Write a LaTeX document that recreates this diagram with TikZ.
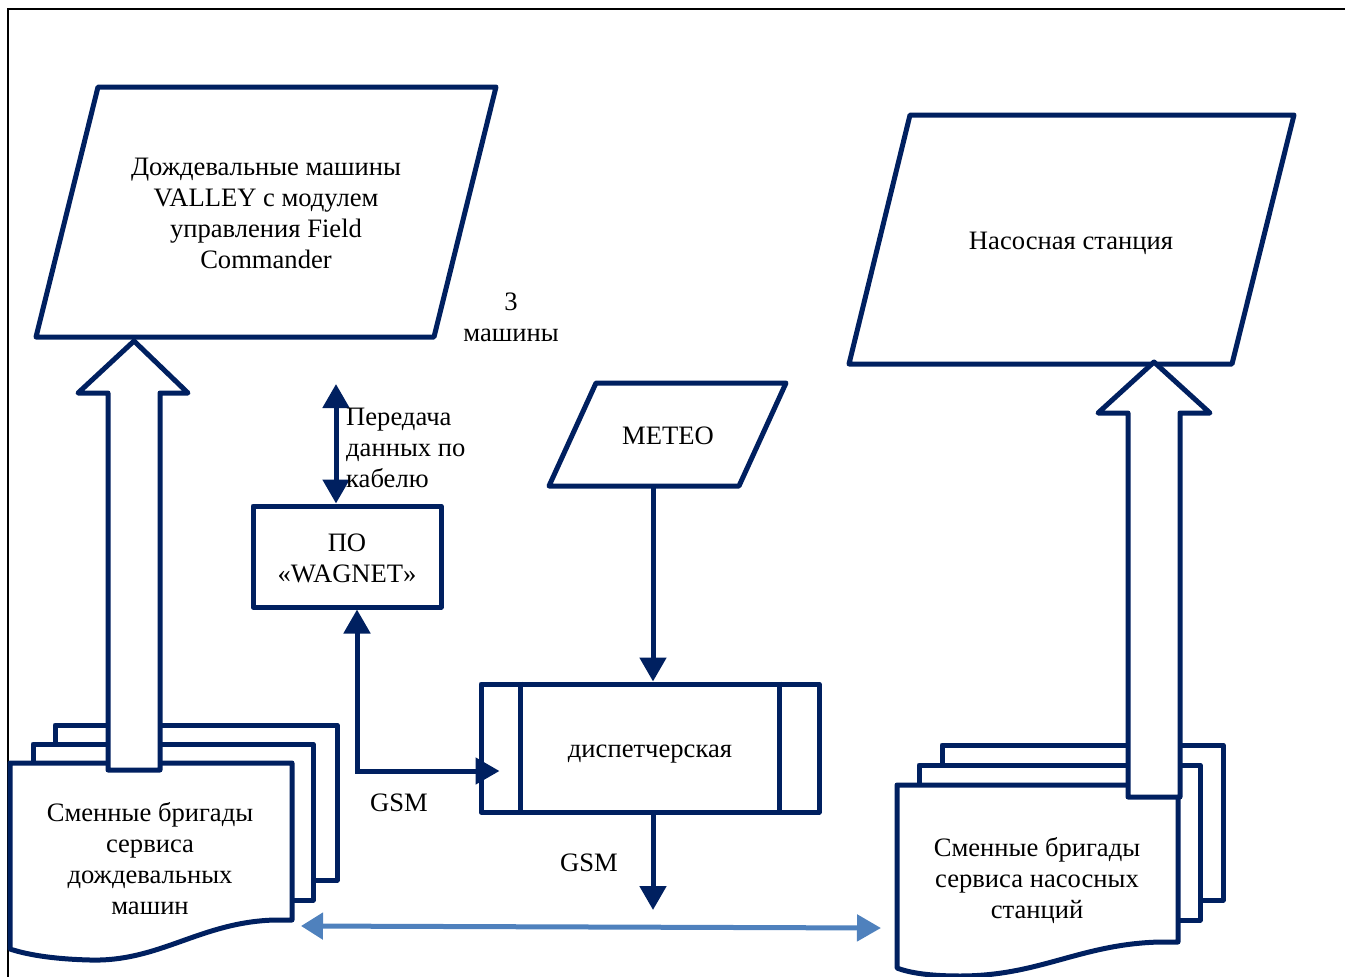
\documentclass[tikz,border=0pt]{standalone}
\usepackage{fontspec}
\setmainfont{Liberation Serif}
\usetikzlibrary{arrows.meta}
\definecolor{navy}{HTML}{002060}
\definecolor{lblue}{HTML}{4F81BD}
\begin{document}
\begin{tikzpicture}[x=1pt,y=-1pt,
  outl/.style={draw=navy,line width=5pt,line join=round,fill=white},
  txt/.style={font=\fontsize{26.6}{31}\selectfont,align=center,inner sep=0pt},
  boxnode/.style={draw=navy,line width=5pt,line join=round,fill=white,rectangle},
  tipd/.tip={Triangle[length=24pt,width=26pt]},
  conn/.style={draw=navy,line width=5pt,-tipd},
  dconn/.style={draw=navy,line width=5pt,tipd-tipd},
  lconn/.style={draw=lblue,line width=5pt,{Triangle[length=22pt,width=26pt]}-{Triangle[length=24pt,width=26pt]}}]
\useasboundingbox (0,0) rectangle (1345,977);
% frame
\draw[black,line width=1.8pt] (8,977) -- (8,9) -- (1345,9);
% parallelograms
\draw[outl] (98,87) -- (496,87) -- (434,337) -- (36,337) -- cycle;
\node[txt] (valley) at (266,213) {Дождевальные машины\\VALLEY с модулем\\управления Field\\Commander};
\draw[outl] (910,115) -- (1294,115) -- (1232,364) -- (849,364) -- cycle;
\node[txt] (pump) at (1071,243) {Насосная станция};
\draw[outl] (596,383) -- (786,383) -- (739,486) -- (549,486) -- cycle;
\node[txt] (meteo) at (668,436) {METEO};
\coordinate (meteoB) at (653,486);
\node[txt] (three) at (511,317) {3\\машины};
% WAGNET
\node[boxnode,minimum width=188pt,minimum height=101pt] (wag) at (347,556.5) {};
\node[txt] (wagt) at (347,558) {ПО\\«WAGNET»};
% dispatcher
\node[boxnode,minimum width=338pt,minimum height=128pt] (disp) at (650,748) {};
\draw[navy,line width=5pt] ([xshift=42pt]disp.north west) -- ([xshift=42pt]disp.south west);
\draw[navy,line width=5pt] ([xshift=-42pt]disp.north east) -- ([xshift=-42pt]disp.south east);
\node[txt] (dispt) at (650,754) {диспетчерская};
% cable arrow
\coordinate (cableTop) at (336,384);
\draw[dconn] (cableTop) -- (cableTop |- wag.north);
\node[txt,anchor=west,align=left] (cable) at (346,448) {Передача\\данных по\\кабелю};
% meteo -> disp
\draw[conn] (meteoB) -- (meteoB |- disp.north);
% wag <-> disp GSM
\draw[dconn] ([xshift=10pt]wag.south) |- ([shift={(21,23)}]disp.west);
\node[txt] (gsm1) at (399,803) {GSM};
% disp -> down GSM
\coordinate (gsmEnd) at (653,910);
\draw[conn] (disp.south -| gsmEnd) -- (gsmEnd);
\node[txt] (gsm2) at (589,863) {GSM};
% left documents
\draw[outl] (55,725) rectangle (337,880);
\draw[outl] (33,744) rectangle (313,900);
\draw[outl] (10,763) -- (292,763) -- (292,920) -- (275,920) .. controls (200,922) and (160,962) .. (90,960) .. controls (50,959) and (25,954) .. (10,949) -- cycle;
\node[txt] (docL) at (150,859) {Сменные бригады\\сервиса\\дождевальных\\машин};
% right documents
\draw[outl] (942,745) rectangle (1223,900);
\draw[outl] (919,765) rectangle (1200,920);
\draw[outl] (897,785) -- (1178,785) -- (1178,942) -- (1160,942) .. controls (1080,944) and (1040,976) .. (960,976) .. controls (930,976) and (910,973) .. (897,968) -- cycle;
\node[txt] (docR) at (1037,881) {Сменные бригады\\сервиса насосных\\станций};
% big hollow arrows
\draw[outl] (108,770) -- (108,393) -- (78,393) -- (134,341) -- (188,393) -- (160,393) -- (160,770) -- cycle;
\draw[outl] (1128,797) -- (1128,413) -- (1098,413) -- (1154,362) -- (1210,413) -- (1180,413) -- (1180,797) -- cycle;
% light blue arrow
\coordinate (bl) at (301,926);
\coordinate (br) at (881,928);
\draw[lconn] (bl) -- (br);
\end{tikzpicture}
\end{document}
